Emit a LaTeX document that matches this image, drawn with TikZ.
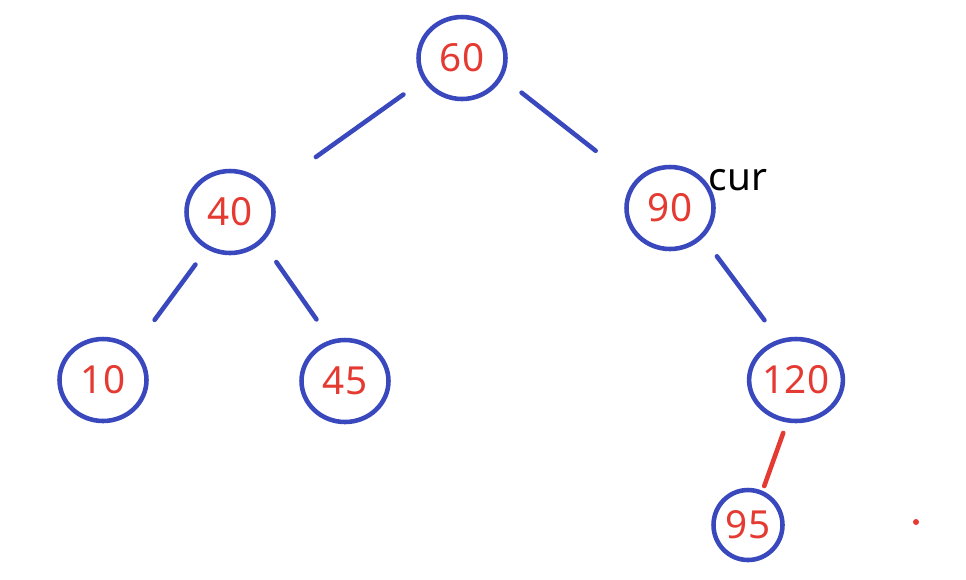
\documentclass[tikz,border=0pt]{standalone}
\usepackage{fontspec}
\setmainfont{Noto Sans}
\usetikzlibrary{shapes.geometric}
\definecolor{treeblue}{RGB}{58,72,190}
\definecolor{keyred}{RGB}{228,58,50}
\tikzset{
  key/.style={draw=treeblue,ellipse,inner sep=0pt,line width=2.6pt,minimum width=1.74cm,minimum height=1.64cm,text=keyred,font=\fontsize{22}{26}\selectfont},
  branch/.style={line width=2.6pt,color=treeblue,line cap=round}
}
\begin{document}
\begin{tikzpicture}[x=0.02cm,y=-0.02cm]
	  \useasboundingbox (0,0) rectangle (966,579);
	  \foreach \n/\x/\y in {60/462/58, 40/230/212, 90/670/208, 10/103/380, 45/345/381, 120/796/380}{
	  	\node [key] at (\x,\y) (k\n) {\raisebox{-0.1cm}{\n}};
	  }
	  \node [key,minimum width=1.38cm,minimum height=1.4cm] at (748,525) (k95) {95};
	  \node [font=\fontsize{22}{26}\selectfont] at (738,180) (cur) {cur};
	  \fill [keyred] (916,522) circle (3);
	 \foreach \i/\p/\j/\q/\a/\b in {60/210/40/29/24/57, 60/-26/90/143/24/49, 40/-122/10/46/19/35, 40/-43/45/109/24/25, 90/-42/120/113/23/24}{
	  	\draw [branch, shorten <=\a*0.02cm, shorten >=\b*0.02cm] (k\i.\p) -- (k\j.\q);
	  }
	\draw [branch, color=keyred, shorten <=0.22cm, shorten >=0.1cm] (k120.-102) -- (k95.67);
	\end{tikzpicture}
\end{document}
